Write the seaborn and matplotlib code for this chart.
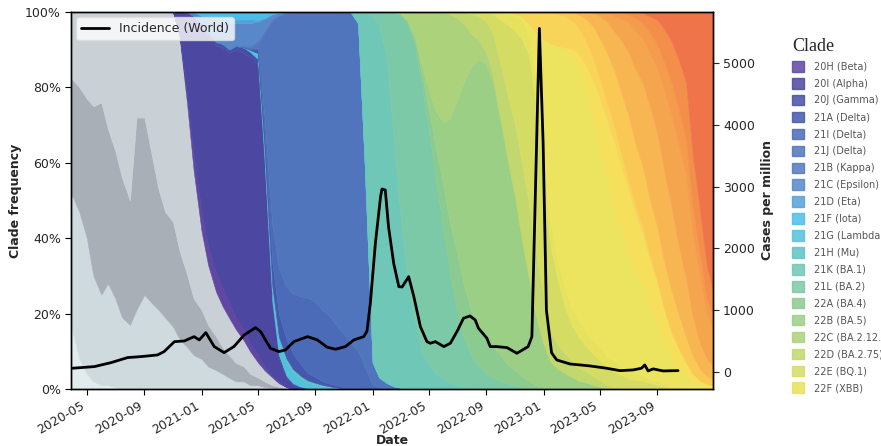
import numpy as np
import pandas as pd
import matplotlib
matplotlib.use("Agg")
import matplotlib.pyplot as plt
import matplotlib.dates as mdates
from matplotlib.patches import Patch
from matplotlib.ticker import PercentFormatter
import seaborn as sns

# half-monthly grid shared by all clade series
dates = pd.date_range("2020-03-15", "2024-01-01", freq="SMS")

# clade shares (%) - (first half-month, values every half month)
gray0 = ("2020-03-15", [20, 15, 8, 4, 2, 1, 1, 0.5])
gray1 = ("2020-03-15", [32, 36, 39, 36, 28, 24, 27, 23.5, 19, 17, 21, 25, 23, 21, 19, 16,
                        13, 11, 9, 8, 6, 5, 4, 3, 2, 2, 1, 1, 0.5, 0.2])
gray2 = ("2020-03-15", [32, 31, 33, 37, 45, 51, 41, 39, 37, 33, 51, 47, 40, 32, 28, 27,
                        23, 19, 15, 13, 11, 9, 7, 6, 5, 4, 3, 2, 1.5, 0.8, 0.5, 0.2])
gray3 = ("2020-03-15", [16, 18, 20, 23, 25, 24, 31, 37, 44, 50, 28, 28, 37, 47, 53, 54,
                        56, 45, 34, 21, 16, 12, 11, 10, 9, 7, 6, 4, 3, 2, 1, 0.3])
c20H = ("2020-11-15", [0.5, 2, 4, 5, 5, 5, 5, 4, 3, 3, 2, 2, 1, 0.5, 0.3])
c20I = ("2020-11-15", [6, 22, 37, 50, 56, 61, 64, 67, 72, 74, 77, 76, 54, 18.5, 6.2, 2.5, 1, 0.3])
c20J = ("2021-01-01", [0.5, 1, 1, 1, 1, 1, 1.5, 1.5, 1.5, 1.5, 1, 1, 0.5, 0.5, 0.3, 0.2, 0.1])
c21G = ("2021-04-15", [0.5, 1.5, 3, 4, 4.5, 4, 3, 2, 1.5, 1, 0.8, 0.5, 0.3, 0.2])
c21H = ("2021-06-15", [0.3, 0.5, 0.8, 0.8, 0.6, 0.5, 0.3, 0.2, 0.1])
c21A = ("2021-04-01", [0.1, 0.3, 1, 4, 6, 6, 5, 4, 3, 2, 1.5, 1, 0.7, 0.5, 0.3, 0.2])
c21I = ("2021-05-01", [0.5, 4, 10, 12, 14, 16, 18, 20, 20, 19, 18, 16, 14, 12, 10, 6, 1, 0.5])
c21J = ("2021-04-01", [0.2, 0.4, 1, 22, 54, 67, 72, 75, 75, 76, 77, 79, 81, 83, 85.5, 87.6,
                       87, 54, 6, 2.5, 1.5, 0.7, 0.3])
c21B = ("2021-04-01", [0.2, 0.5, 0.8, 0.8, 0.5, 0.3, 0.2, 0.1])
c21C = ("2020-12-15", [1, 2, 4, 6, 6, 7, 6, 6, 6, 5, 3, 1, 0.5])
c21D = ("2021-01-15", [0.5, 0.5, 0.5, 1, 1, 1, 1, 0.5, 0.3, 0.1])
c21F = ("2021-01-01", [1, 1, 1.5, 2, 2, 2, 2, 2, 2, 1.5, 0.5, 0.2])
c21K = ("2021-12-01", [3, 40, 92, 93, 85, 65, 45, 30, 18, 10, 6, 4, 2.5, 1.5, 1, 0.5])
c21L = ("2022-01-01", [1, 3.5, 13, 33, 52, 63, 70, 68, 60, 50, 38, 27, 18, 12, 8, 6, 4, 3,
                       2, 1.5, 1, 0.5])
c22A = ("2022-03-15", [0.5, 1.5, 3, 5, 8, 11, 13, 14, 13, 11, 10, 9, 8, 7, 5, 4, 3, 2, 1, 0.5])
c22B = ("2022-04-01", [1, 2, 5, 9, 16, 26, 38, 50, 62, 68, 70, 67, 62, 55, 46, 36, 26, 18,
                       11, 7, 5, 4, 3, 2, 1.5, 1, 0.5])
c22C = ("2022-03-01", [0.5, 2, 6, 13, 20, 25, 28, 26, 20, 14, 8, 5, 3, 2, 1])
c22D = ("2022-06-15", [0.5, 1.5, 3, 5, 6, 8, 11, 14, 17, 19, 20, 19, 16, 12, 8, 6, 5, 4, 3,
                       2.5, 2, 1.5, 1, 0.5, 0.3])
c22E = ("2022-08-01", [0.5, 1, 2.5, 5, 12, 18, 25, 32, 38, 38, 30, 22, 16, 12, 9, 7.5, 6, 5,
                       4.5, 4, 3.5, 3, 2.5, 2.2, 2, 1.5, 1, 0.5])
c22F = ("2022-09-15", [0.5, 2, 3, 4, 5, 5, 6, 6, 6, 5, 5, 4, 4, 3.5, 3, 3, 2.5, 2.5, 2, 2,
                       1.5, 1.5, 1, 1, 0.8, 0.5, 0.3])
c23A = ("2022-10-15", [0.3, 0.5, 1, 3, 12, 30, 45, 55, 60, 62, 60, 56, 51, 46, 41, 36, 32,
                       28, 25, 22, 18, 14, 10, 7, 5, 3, 2, 1.2, 0.8, 0.5])
c23B = ("2023-02-15", [0.5, 1.5, 3, 5, 8, 11, 13, 15, 15, 15, 14, 13, 12, 10, 8, 6, 5, 3.5,
                       2.5, 1.5, 1, 0.5])
c23C = ("2022-11-01", [0.5, 1, 3, 5, 7, 8, 8, 8, 7, 6, 5.5, 5, 4.5, 4, 3.5, 3, 2.5, 2, 1.5,
                       1, 0.7, 0.5, 0.3])
c23D = ("2023-02-01", [0.5, 1, 2, 3, 5, 7, 9, 11, 13, 14, 15, 15, 15, 14, 13, 11, 10, 8, 6,
                       5, 3.5, 2.5, 2])
c23E = ("2023-03-15", [0.5, 1.5, 3, 5, 7, 9, 12, 15, 18, 21, 23, 23, 22, 20, 17, 14, 11, 8, 6, 4])
c23F = ("2023-05-01", [1, 2, 3.5, 5, 7, 9, 11, 13, 16, 19, 22, 24, 25, 23, 20, 15, 11])
c23G = ("2023-06-01", [1, 1.5, 2, 3, 4, 5, 6, 7, 8, 8.5, 8.5, 8, 7, 5.5, 4])
c23H = ("2023-07-01", [0.5, 1.5, 2.5, 4, 6, 8, 10, 12, 14, 15, 14, 11, 8])
c23I = ("2023-08-01", [0.3, 1, 2, 4, 7, 11, 17, 40, 62, 85, 95])

# stacking order, legend label (None = not listed), colour
stack = [
    (gray0, None, "#e2ebee"), (gray1, None, "#cfdadf"), (gray2, None, "#a9afb7"),
    (gray3, None, "#c9d1d7"),
    (c20H, "20H (Beta)", "#6146a2"), (c20I, "20I (Alpha)", "#4c48a1"),
    (c20J, "20J (Gamma)", "#4650a8"), (c21G, "21G (Lambda)", "#52c2da"),
    (c21H, "21H (Mu)", "#5ec4c4"), (c21A, "21A (Delta)", "#4458ad"),
    (c21I, "21I (Delta)", "#4b6ab7"), (c21J, "21J (Delta)", "#5075bd"),
    (c21B, "21B (Kappa)", "#5379bf"), (c21C, "21C (Epsilon)", "#5888c8"),
    (c21D, "21D (Eta)", "#56a0d9"), (c21F, "21F (Iota)", "#4dbde8"),
    (c21K, "21K (BA.1)", "#6fc7b8"), (c21L, "21L (BA.2)", "#7bc9a6"),
    (c22A, "22A (BA.4)", "#8bcb90"), (c22B, "22B (BA.5)", "#9ccf86"),
    (c22C, "22C (BA.2.12.1)", "#acd27b"), (c22D, "22D (BA.2.75)", "#c2d76d"),
    (c22E, "22E (BQ.1)", "#d4dc64"), (c22F, "22F (XBB)", "#e6e25d"),
    (c23A, None, "#ece45e"), (c23B, None, "#f5df5b"), (c23C, None, "#f8d458"),
    (c23D, None, "#f9c855"), (c23E, None, "#f7b651"), (c23F, None, "#f5a54e"),
    (c23G, None, "#f49c4c"), (c23H, None, "#f38f4b"), (c23I, None, "#ef7449"),
]
legend_order = ["20H (Beta)", "20I (Alpha)", "20J (Gamma)", "21A (Delta)", "21I (Delta)",
                "21J (Delta)", "21B (Kappa)", "21C (Epsilon)", "21D (Eta)", "21F (Iota)",
                "21G (Lambda)", "21H (Mu)", "21K (BA.1)", "21L (BA.2)", "22A (BA.4)",
                "22B (BA.5)", "22C (BA.2.12.1)", "22D (BA.2.75)", "22E (BQ.1)", "22F (XBB)"]

# world incidence, cases per million
inc_dates = ["2020-04-01", "2020-05-17", "2020-06-22", "2020-07-27", "2020-08-25", "2020-09-29",
             "2020-10-13", "2020-11-04", "2020-11-25", "2020-12-16", "2020-12-27", "2021-01-10",
             "2021-01-28", "2021-02-18", "2021-03-11", "2021-04-02", "2021-04-26", "2021-05-07",
             "2021-05-28", "2021-06-15", "2021-06-29", "2021-07-17", "2021-08-15", "2021-09-05",
             "2021-09-26", "2021-10-14", "2021-11-04", "2021-11-22", "2021-12-13", "2021-12-20",
             "2021-12-27", "2022-01-07", "2022-01-18", "2022-01-21", "2022-01-28", "2022-02-04",
             "2022-02-15", "2022-02-26", "2022-03-05", "2022-03-19", "2022-03-30", "2022-04-13",
             "2022-04-27", "2022-05-04", "2022-05-15", "2022-06-02", "2022-06-16", "2022-06-30",
             "2022-07-14", "2022-07-28", "2022-08-08", "2022-08-15", "2022-09-02", "2022-09-09",
             "2022-09-23", "2022-10-15", "2022-11-05", "2022-11-29", "2022-12-07", "2022-12-23",
             "2022-12-31", "2023-01-07", "2023-01-18", "2023-01-29", "2023-02-26", "2023-04-10",
             "2023-05-15", "2023-06-13", "2023-07-11", "2023-07-29", "2023-08-05", "2023-08-12",
             "2023-08-23", "2023-09-13", "2023-10-15"]
inc_values = [60, 86, 151, 232, 248, 275, 329, 490, 501, 571, 518, 636,
              410, 312, 410, 599, 717, 652, 383, 329, 356, 490, 571, 518,
              400, 367, 410, 518, 571, 660, 1100, 2087, 2837, 2961, 2945, 2351,
              1758, 1380, 1375, 1542, 1219, 733, 490, 464, 490, 410, 464, 652,
              869, 906, 841, 707, 545, 410, 410, 393, 302, 410, 571, 5560,
              3700, 1000, 310, 194, 129, 97, 60, 21, 32, 60, 113, 16,
              49, 16, 21]


def expand(series):
    start, vals = series
    out = np.zeros(len(dates))
    i = dates.get_loc(pd.Timestamp(start))
    out[i:i + len(vals)] = vals
    return out


layers = np.array([expand(s) for s, _, _ in stack])
layers = layers / layers.sum(axis=0) * 100
colors = [c for _, _, c in stack]

sns.set_style("ticks")
plt.rcParams["font.family"] = ["DejaVu Sans"]

fig, ax = plt.subplots(figsize=(8.81, 4.46), dpi=100)
fig.subplots_adjust(left=0.081, right=0.809, bottom=0.128, top=0.973)

polys = ax.stackplot(dates, *layers, colors=colors, linewidth=0.4)
for p, c in zip(polys, colors):
    p.set_edgecolor(c)

ax.set_ylim(0, 100)
ax.set_xlim(pd.Timestamp("2020-03-29"), pd.Timestamp("2023-12-28"))
ax.yaxis.set_major_formatter(PercentFormatter(decimals=0))
ax.set_yticks([0, 20, 40, 60, 80, 100])
ax.xaxis.set_major_locator(mdates.MonthLocator(bymonth=[1, 5, 9]))
ax.xaxis.set_major_formatter(mdates.DateFormatter("%Y-%m"))
for lab in ax.get_xticklabels():
    lab.set_rotation(30)
    lab.set_ha("right")
ax.tick_params(labelsize=9, length=4, color="black")
ax.set_xlabel("Date", fontsize=9, fontweight="bold", labelpad=-2)
ax.set_ylabel("Clade frequency", fontsize=9, fontweight="bold", labelpad=2)

ax2 = ax.twinx()
inc = pd.DataFrame({"date": pd.to_datetime(inc_dates), "cases": inc_values})
sns.lineplot(data=inc, x="date", y="cases", ax=ax2, color="black", linewidth=2,
             label="Incidence (World)")
ax2.set_ylim(-275, 5825)
ax2.set_yticks([0, 1000, 2000, 3000, 4000, 5000])
ax2.tick_params(labelsize=9, length=4)
ax2.set_ylabel("Cases per million", fontsize=9, fontweight="bold")
ax2.set_xlabel("")
ax2.legend(loc="upper left", fontsize=9, framealpha=0.8, edgecolor="#dddddd",
           handlelength=2.2, borderaxespad=0.4)

for spine in list(ax.spines.values()) + list(ax2.spines.values()):
    spine.set_color("black")
    spine.set_linewidth(1)

color_of = {lab: c for _, lab, c in stack if lab}
handles = [Patch(facecolor=color_of[l], edgecolor=color_of[l], alpha=0.85) for l in legend_order]
fig.legend(handles, legend_order, title="Clade", loc="upper left",
           bbox_to_anchor=(0.889, 0.935), frameon=False, fontsize=7,
           labelcolor="#555555", handlelength=1.25, handleheight=1.3,
           labelspacing=0.65, handletextpad=1.0, alignment="left",
           title_fontproperties={"family": "Liberation Serif", "size": 13})

fig.savefig("out.png", dpi=100)
